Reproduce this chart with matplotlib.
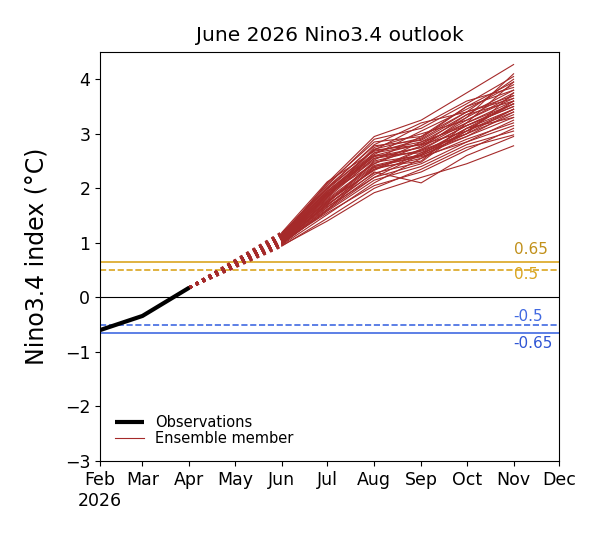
import datetime as dt
import matplotlib
matplotlib.use("Agg")
import matplotlib.pyplot as plt
import matplotlib.dates as mdates

# Observed Nino3.4 index (Feb-Apr 2026)
obs_dates = [dt.date(2026, 2, 1), dt.date(2026, 3, 1), dt.date(2026, 4, 1)]
obs_values = [-0.60, -0.34, 0.18]

# Ensemble forecast months (Jun-Nov 2026)
fc_dates = [dt.date(2026, m, 1) for m in range(6, 12)]

# Each row: one ensemble member, Jun..Nov
members = [
    [1.05, 1.75, 2.40, 2.60, 3.00, 3.45],
    [1.10, 1.90, 2.55, 2.75, 3.20, 3.60],
    [0.98, 1.60, 2.20, 2.45, 2.85, 3.25],
    [1.15, 2.05, 2.90, 3.10, 3.55, 4.05],
    [1.02, 1.55, 2.05, 2.30, 2.70, 3.10],
    [1.12, 2.10, 2.95, 3.25, 3.75, 4.27],
    [0.95, 1.40, 1.92, 2.20, 2.45, 2.78],
    [1.08, 1.85, 2.60, 2.65, 3.10, 3.55],
    [1.00, 1.70, 2.35, 2.55, 3.05, 3.40],
    [1.18, 2.00, 2.70, 2.80, 3.35, 3.80],
    [1.06, 1.80, 2.45, 2.85, 3.15, 3.50],
    [0.97, 1.65, 2.30, 2.10, 2.60, 2.95],
    [1.13, 1.95, 2.65, 2.90, 3.40, 3.70],
    [1.03, 1.72, 2.50, 2.70, 3.00, 3.35],
    [1.09, 1.88, 2.75, 3.00, 3.25, 3.65],
    [1.01, 1.62, 2.25, 2.65, 2.95, 3.30],
    [1.16, 2.08, 2.85, 2.95, 3.50, 3.95],
    [0.99, 1.58, 2.15, 2.40, 2.80, 3.05],
    [1.11, 1.92, 2.58, 2.75, 3.30, 3.75],
    [1.04, 1.78, 2.42, 2.62, 3.10, 3.45],
    [1.07, 1.83, 2.65, 2.80, 3.05, 3.60],
    [0.96, 1.52, 2.10, 2.55, 2.90, 3.20],
    [1.14, 1.98, 2.70, 3.15, 3.60, 3.85],
    [1.02, 1.68, 2.38, 2.50, 3.20, 3.55],
    [1.10, 1.87, 2.52, 2.95, 3.40, 3.65],
    [1.00, 1.73, 2.48, 2.60, 2.95, 3.40],
    [1.19, 2.12, 2.68, 2.85, 3.30, 4.10],
    [1.05, 1.77, 2.33, 2.70, 3.15, 3.50],
    [0.94, 1.45, 2.00, 2.35, 2.75, 2.98],
    [1.12, 1.95, 2.62, 3.05, 3.45, 3.90],
    [1.06, 1.82, 2.55, 2.68, 3.00, 3.75],
    [1.03, 1.70, 2.28, 2.48, 3.10, 3.30],
    [1.17, 2.02, 2.78, 2.88, 3.35, 3.60],
    [1.08, 1.90, 2.45, 2.78, 3.25, 3.70],
    [0.98, 1.60, 2.40, 2.58, 2.85, 3.15],
    [1.13, 1.93, 2.60, 2.82, 3.20, 3.95],
    [1.01, 1.66, 2.20, 2.62, 3.05, 3.45],
    [1.09, 1.85, 2.72, 2.92, 3.50, 3.80],
    [1.04, 1.75, 2.35, 2.72, 3.15, 3.55],
    [1.15, 2.00, 2.80, 3.20, 3.40, 4.00],
]

# Threshold labels and where their text sits
thr_labels = ["0.65", "0.5", "-0.5", "-0.65"]
thr_text_y = [0.87, 0.42, -0.35, -0.85]

tick_dates = [dt.date(2026, m, 1) for m in range(2, 13)]
tick_labels = ["Feb\n2026", "Mar", "Apr", "May", "Jun", "Jul",
               "Aug", "Sep", "Oct", "Nov", "Dec"]

RED = "#a52a2a"

fig = plt.figure(figsize=(6, 5.4), dpi=100)
ax = fig.add_axes([0.1667, 0.1463, 0.765, 0.7574])

# threshold lines
ax.axhline(0, color="black", lw=0.8)
ax.axhline(0.65, color="#daa520", lw=1.2)
ax.axhline(0.5, color="#daa520", lw=1.2, ls="--")
ax.axhline(-0.5, color="#4169e1", lw=1.2, ls="--")
ax.axhline(-0.65, color="#4169e1", lw=1.2)

thr_colors = ["#c1901a", "#daa520", "#4169e1", "#2f55d4"]
for lab, ty, c in zip(thr_labels, thr_text_y, thr_colors):
    ax.text(dt.date(2026, 11, 1), ty, lab, color=c, fontsize=11,
            ha="left", va="center")

obs_line, = ax.plot(obs_dates, obs_values, color="black", lw=3,
                    solid_capstyle="butt", zorder=5)

# ensemble members: dotted bridge from last obs, solid forecast
ens_line = None
for m in members:
    ax.plot([obs_dates[-1], fc_dates[0]], [obs_values[-1], m[0]],
            color=RED, lw=2, ls=":")
    ens_line, = ax.plot(fc_dates, m, color=RED, lw=0.8)

ax.set_xlim(dt.date(2026, 2, 1), dt.date(2026, 12, 1))
ax.set_ylim(-3, 4.5)
ax.set_xticks([mdates.date2num(d) for d in tick_dates])
ax.set_xticklabels(tick_labels, ha="center", fontsize=12.5)
ax.set_yticks(range(-3, 5))
ax.set_yticklabels(["\u22123", "\u22122", "\u22121", "0", "1", "2", "3", "4"])
ax.tick_params(axis="y", labelsize=12.5)

ax.set_ylabel("Nino3.4 index (\u00b0C)", fontsize=17, labelpad=12)
ax.set_title("June 2026 Nino3.4 outlook", fontsize=14.5, pad=8)
ax.legend([obs_line, ens_line], ["Observations", "Ensemble member"],
          loc="lower left", frameon=False, fontsize=10.5,
          handlelength=2.0, borderaxespad=0.6, labelspacing=0.1)

fig.savefig("out.png", dpi=100)
